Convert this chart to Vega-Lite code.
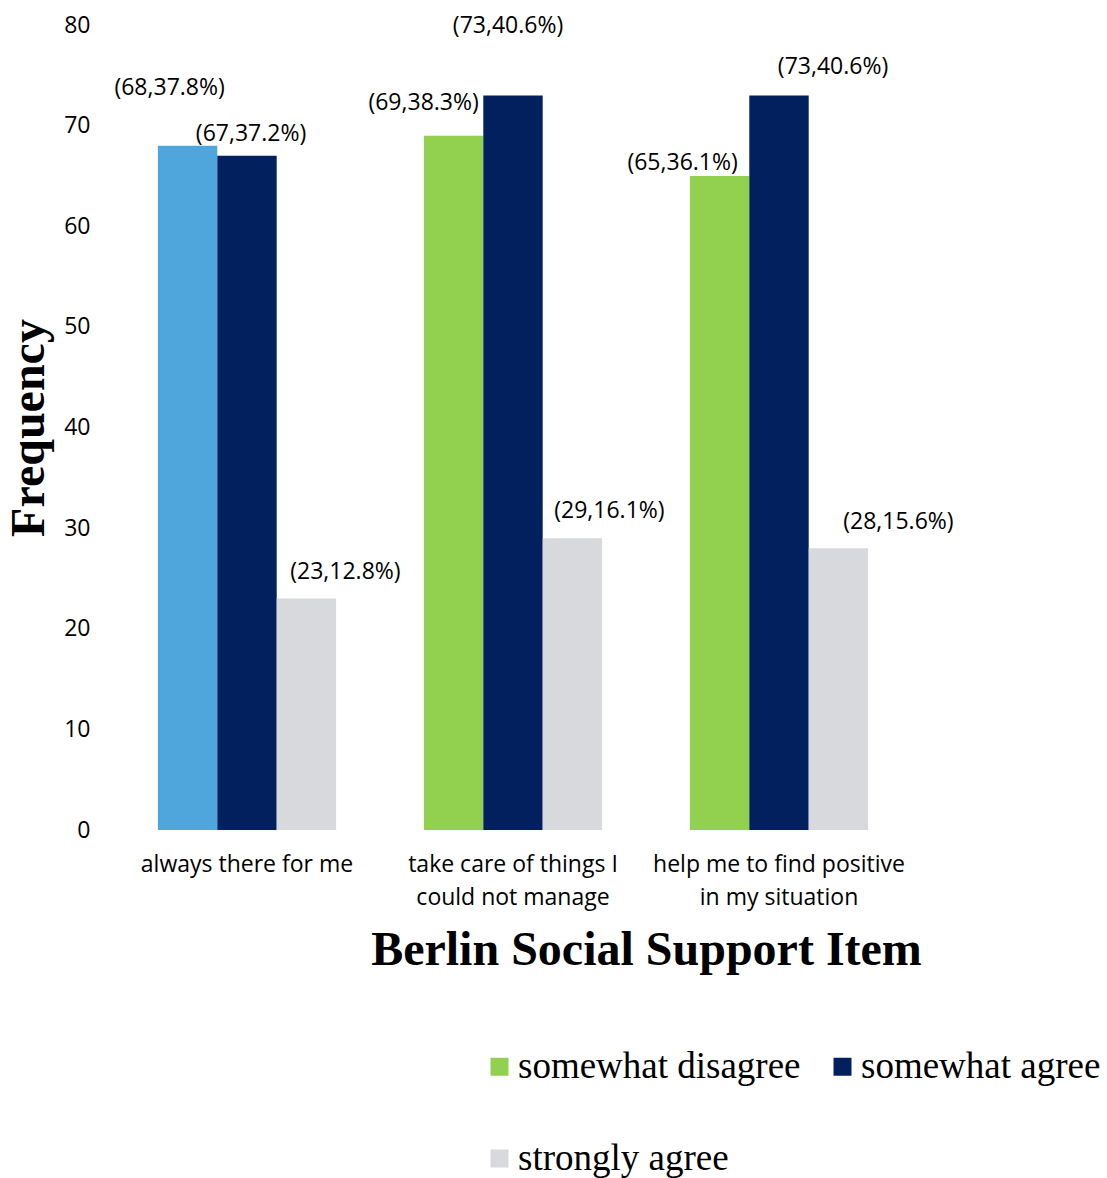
{
  "$schema": "https://vega.github.io/schema/vega-lite/v6.json",
  "width": 798,
  "height": 805,
  "autosize": "none",
  "padding": {"left": 114, "top": 25, "right": 195, "bottom": 348},
  "background": "white",
  "config": {"view": {"stroke": null}},
  "data": {
    "values": [
      {"item": "always there for me", "response": "somewhat disagree", "count": 68, "pct": 37.8},
      {"item": "always there for me", "response": "somewhat agree", "count": 67, "pct": 37.2},
      {"item": "always there for me", "response": "strongly agree", "count": 23, "pct": 12.8},
      {"item": "take care of things I could not manage", "response": "somewhat disagree", "count": 69, "pct": 38.3},
      {"item": "take care of things I could not manage", "response": "somewhat agree", "count": 73, "pct": 40.6},
      {"item": "take care of things I could not manage", "response": "strongly agree", "count": 29, "pct": 16.1},
      {"item": "help me to find positive in my situation", "response": "somewhat disagree", "count": 65, "pct": 36.1},
      {"item": "help me to find positive in my situation", "response": "somewhat agree", "count": 73, "pct": 40.6},
      {"item": "help me to find positive in my situation", "response": "strongly agree", "count": 28, "pct": 15.6}
    ]
  },
  "transform": [
    {"calculate": "'(' + datum.count + ',' + format(datum.pct, '.1f') + '%)'", "as": "label"}
  ],
  "encoding": {
    "x": {
      "field": "item",
      "type": "nominal",
      "sort": null,
      "scale": {"paddingInner": 0.33, "paddingOuter": 0.165},
      "axis": {
        "title": "Berlin Social Support Item",
        "titleFont": "Liberation Serif",
        "titleFontWeight": "bold",
        "titleFontSize": 48,
        "titleColor": "black",
        "titleX": 532,
        "titleY": 134,
        "titleBaseline": "alphabetic",
        "labelAngle": 0,
        "labelFont": "Open Sans",
        "labelFontSize": 23,
        "labelColor": "black",
        "labelPadding": 23,
        "labelLineHeight": 33,
        "labelBaseline": "top",
        "labelLimit": 400,
        "labelExpr": "datum.label == 'take care of things I could not manage' ? ['take care of things I', 'could not manage'] : datum.label == 'help me to find positive in my situation' ? ['help me to find positive', 'in my situation'] : datum.label",
        "domain": false,
        "ticks": false
      }
    },
    "xOffset": {
      "field": "response",
      "type": "nominal",
      "scale": {"domain": ["somewhat disagree", "somewhat agree", "strongly agree"], "paddingInner": 0, "paddingOuter": 0}
    },
    "y": {
      "field": "count",
      "type": "quantitative",
      "scale": {"domain": [0, 80]},
      "axis": {
        "title": "Frequency",
        "titleFont": "Liberation Serif",
        "titleFontWeight": "bold",
        "titleFontSize": 48,
        "titleColor": "black",
        "titleX": -71,
        "titleBaseline": "alphabetic",
        "values": [0, 10, 20, 30, 40, 50, 60, 70, 80],
        "labelFont": "Open Sans",
        "labelFontSize": 23,
        "labelColor": "black",
        "labelPadding": 24,
        "grid": false,
        "domain": false,
        "ticks": false
      }
    }
  },
  "layer": [
    {
      "mark": {"type": "bar"},
      "encoding": {
        "color": {
          "condition": {
            "test": "datum.item == 'always there for me' && datum.response == 'somewhat disagree'",
            "value": "#4FA6DC"
          },
          "field": "response",
          "type": "nominal",
          "scale": {
            "domain": ["somewhat disagree", "somewhat agree", "strongly agree"],
            "range": ["#92D050", "#02205E", "#D8D9DC"]
          },
          "legend": {
            "title": null,
            "orient": "none",
            "legendX": 367,
            "legendY": 1023,
            "direction": "horizontal",
            "columns": 2,
            "columnPadding": 23,
            "rowPadding": 54,
            "padding": 0,
            "symbolType": "square",
            "symbolSize": 324,
            "symbolStrokeWidth": 0,
            "labelFont": "Liberation Serif",
            "labelFontSize": 37,
            "labelColor": "black",
            "labelOffset": 0,
            "labelLimit": 400
          }
        }
      }
    },
    {
      "transform": [{"filter": "datum.item == 'always there for me' && datum.response == 'somewhat disagree'"}],
      "mark": {"type": "text", "font": "Open Sans", "fontSize": 23, "color": "black", "baseline": "middle", "dx": -18, "dy": -58},
      "encoding": {"text": {"field": "label"}}
    },
    {
      "transform": [{"filter": "datum.item == 'always there for me' && datum.response == 'somewhat agree'"}],
      "mark": {"type": "text", "font": "Open Sans", "fontSize": 23, "color": "black", "baseline": "middle", "dx": 4, "dy": -22},
      "encoding": {"text": {"field": "label"}}
    },
    {
      "transform": [{"filter": "datum.item == 'always there for me' && datum.response == 'strongly agree'"}],
      "mark": {"type": "text", "font": "Open Sans", "fontSize": 23, "color": "black", "baseline": "middle", "dx": 39, "dy": -27},
      "encoding": {"text": {"field": "label"}}
    },
    {
      "transform": [{"filter": "datum.item == 'take care of things I could not manage' && datum.response == 'somewhat disagree'"}],
      "mark": {"type": "text", "font": "Open Sans", "fontSize": 23, "color": "black", "baseline": "middle", "dx": -30, "dy": -33},
      "encoding": {"text": {"field": "label"}}
    },
    {
      "transform": [{"filter": "datum.item == 'take care of things I could not manage' && datum.response == 'somewhat agree'"}],
      "mark": {"type": "text", "font": "Open Sans", "fontSize": 23, "color": "black", "baseline": "middle", "dx": -5, "dy": -69},
      "encoding": {"text": {"field": "label"}}
    },
    {
      "transform": [{"filter": "datum.item == 'take care of things I could not manage' && datum.response == 'strongly agree'"}],
      "mark": {"type": "text", "font": "Open Sans", "fontSize": 23, "color": "black", "baseline": "middle", "dx": 37, "dy": -27},
      "encoding": {"text": {"field": "label"}}
    },
    {
      "transform": [{"filter": "datum.item == 'help me to find positive in my situation' && datum.response == 'somewhat disagree'"}],
      "mark": {"type": "text", "font": "Open Sans", "fontSize": 23, "color": "black", "baseline": "middle", "dx": -37, "dy": -13},
      "encoding": {"text": {"field": "label"}}
    },
    {
      "transform": [{"filter": "datum.item == 'help me to find positive in my situation' && datum.response == 'somewhat agree'"}],
      "mark": {"type": "text", "font": "Open Sans", "fontSize": 23, "color": "black", "baseline": "middle", "dx": 54, "dy": -28},
      "encoding": {"text": {"field": "label"}}
    },
    {
      "transform": [{"filter": "datum.item == 'help me to find positive in my situation' && datum.response == 'strongly agree'"}],
      "mark": {"type": "text", "font": "Open Sans", "fontSize": 23, "color": "black", "baseline": "middle", "dx": 60, "dy": -26},
      "encoding": {"text": {"field": "label"}}
    }
  ]
}
